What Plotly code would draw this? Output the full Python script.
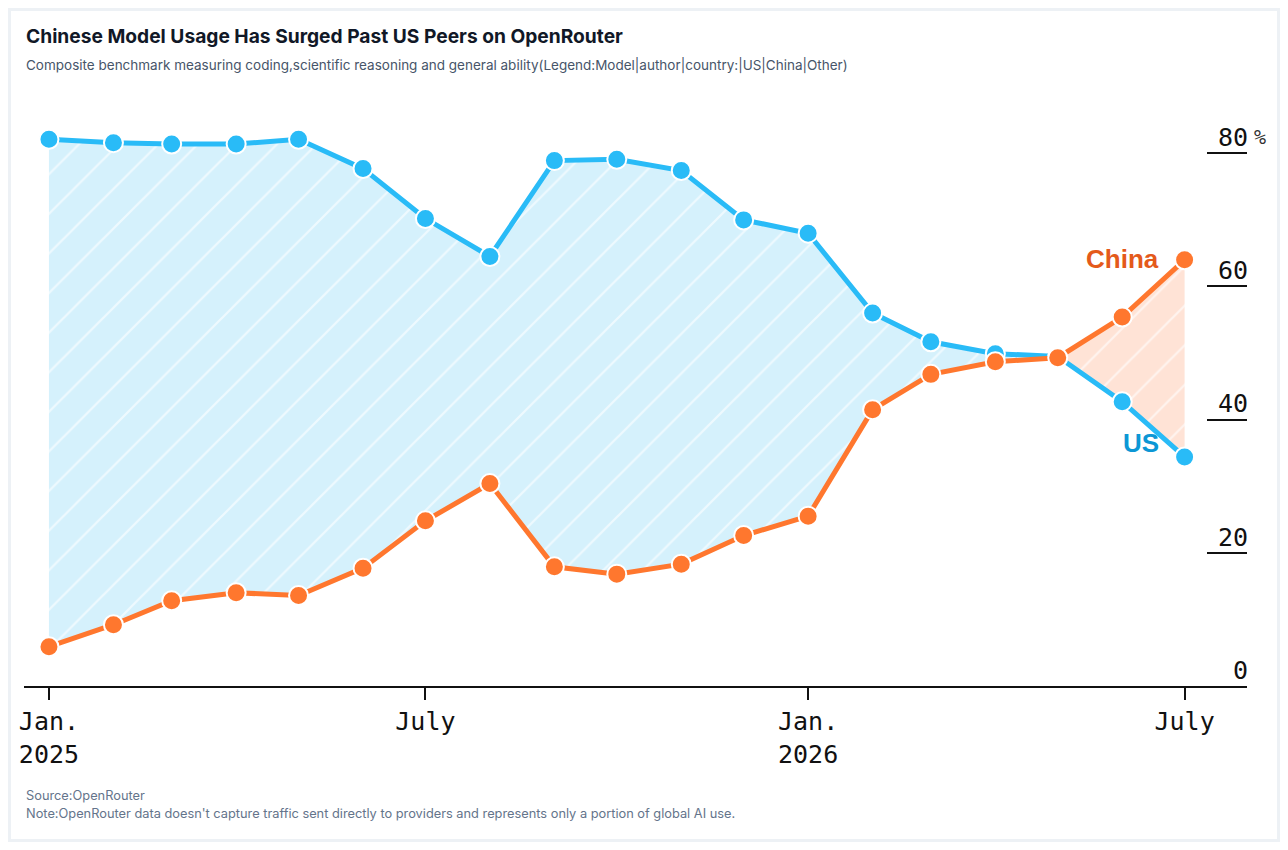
import plotly.graph_objects as go

months = ["2025-01-01", "2025-02-01", "2025-03-01", "2025-04-01", "2025-05-01",
          "2025-06-01", "2025-07-01", "2025-08-01", "2025-09-01", "2025-10-01",
          "2025-11-01", "2025-12-01", "2026-01-01", "2026-02-01", "2026-03-01",
          "2026-04-01", "2026-05-01", "2026-06-01", "2026-07-01"]
us = [82.1, 81.6, 81.4, 81.4, 82.1, 77.7, 70.2, 64.5, 78.9, 79.1,
      77.4, 70.0, 68.0, 56.0, 51.7, 49.9, 49.5, 42.7, 34.4]
china = [5.9, 9.2, 12.8, 14.0, 13.6, 17.7, 24.8, 30.4, 17.9, 16.8,
         18.3, 22.6, 25.5, 41.5, 46.8, 48.7, 49.3, 55.4, 64.0]

x_tickvals = ["2025-01-01", "2025-07-01", "2026-01-01", "2026-07-01"]
x_ticktext = ["Jan.<br>2025", "July", "Jan.<br>2026", "July"]
y_tickvals = [0, 20, 40, 60, 80]

cross = 16  # month where China overtakes US (May 2026)

BLUE = "#29bbf7"
ORANGE = "#ff772e"
MONO = "DejaVu Sans Mono, monospace"
SANS = "Inter, Noto Sans, sans-serif"

fig = go.Figure()

# gap shading: US ahead (blue), China ahead (orange)
fig.add_trace(go.Scatter(x=months[:cross + 1], y=china[:cross + 1], mode="lines",
                         line=dict(width=0), hoverinfo="skip", showlegend=False))
fig.add_trace(go.Scatter(x=months[:cross + 1], y=us[:cross + 1], mode="lines",
                         line=dict(width=0), fill="tonexty", fillcolor="#d5f1fc",
                         fillpattern=dict(shape="/", fgcolor="white", size=28,
                                          solidity=0.08, fgopacity=0.6),
                         hoverinfo="skip", showlegend=False))
fig.add_trace(go.Scatter(x=months[cross:], y=us[cross:], mode="lines",
                         line=dict(width=0), hoverinfo="skip", showlegend=False))
fig.add_trace(go.Scatter(x=months[cross:], y=china[cross:], mode="lines",
                         line=dict(width=0), fill="tonexty", fillcolor="#ffe3d6",
                         fillpattern=dict(shape="/", fgcolor="white", size=28,
                                          solidity=0.08, fgopacity=0.6),
                         hoverinfo="skip", showlegend=False))

# lines
fig.add_trace(go.Scatter(x=months, y=us, mode="lines+markers", name="US",
                         line=dict(color=BLUE, width=5),
                         marker=dict(size=19, color=BLUE, line=dict(color="white", width=2)),
                         showlegend=False))
fig.add_trace(go.Scatter(x=months, y=china, mode="lines+markers", name="China",
                         line=dict(color=ORANGE, width=5),
                         marker=dict(size=19, color=ORANGE, line=dict(color="white", width=2)),
                         showlegend=False))

fig.add_annotation(x=months[-1], y=china[-1], text="<b>China</b>", showarrow=False,
                   xanchor="right", xshift=-24, yshift=1,
                   font=dict(family="Liberation Sans, Arial", size=26, color="#e45a1b"))
fig.add_annotation(x=months[-1], y=us[-1], text="<b>US</b>", showarrow=False,
                   xanchor="right", xshift=-24, yshift=14,
                   font=dict(family="Liberation Sans, Arial", size=26, color="#0c97d5"))
fig.add_annotation(x=1.004, xref="paper", y=80, text="%", showarrow=False,
                   xanchor="left", yanchor="middle", yshift=16,
                   font=dict(family=MONO, size=20, color="#333"))

# titles and footer
fig.add_annotation(x=0, xref="paper", y=1.148, yref="paper", xanchor="left", yanchor="middle",
                   text="<b>Chinese Model Usage Has Surged Past US Peers on OpenRouter</b>",
                   showarrow=False, font=dict(family=SANS, size=19.2, color="#111827"))
fig.add_annotation(x=0, xref="paper", y=1.097, yref="paper", xanchor="left", yanchor="middle",
                   text="Composite benchmark measuring coding,scientific reasoning and general ability(Legend:Model|author|country:|US|China|Other)",
                   showarrow=False, font=dict(family=SANS, size=13.5, color="#475569"))
fig.add_annotation(x=0, xref="paper", y=-0.194, yref="paper", xanchor="left", yanchor="middle",
                   text="Source:OpenRouter", showarrow=False,
                   font=dict(family=SANS, size=12.8, color="#64748b"))
fig.add_annotation(x=0, xref="paper", y=-0.226, yref="paper", xanchor="left", yanchor="middle",
                   text="Note:OpenRouter data doesn't capture traffic sent directly to providers and represents only a portion of global AI use.",
                   showarrow=False, font=dict(family=SANS, size=12.8, color="#64748b"))

# card border
fig.add_shape(type="rect", xref="paper", yref="paper",
              x0=-0.0131, x1=1.027, y0=-0.2756, y1=1.198,
              line=dict(color="#edf1f5", width=6), layer="below")

fig.update_layout(
    width=1272, height=834,
    margin=dict(l=16, r=33, t=112, b=156),
    paper_bgcolor="white", plot_bgcolor="white",
    xaxis=dict(type="date", range=["2024-12-20", "2026-07-31"],
               tickvals=x_tickvals, ticktext=x_ticktext,
               ticks="outside", ticklen=12, tickwidth=2, tickcolor="#111",
               showline=True, linecolor="#111", linewidth=2,
               showgrid=False, zeroline=False,
               tickfont=dict(family=MONO, size=25, color="#111")),
    yaxis=dict(side="right", range=[0, 85], tickvals=y_tickvals,
               ticks="inside", ticklen=40, tickwidth=2, tickcolor="#111",
               ticklabelposition="inside", ticklabelshift=-16, ticklabelstandoff=-39,
               showline=False, showgrid=False, zeroline=False,
               tickfont=dict(family=MONO, size=25, color="#111")),
)

fig.write_html("out.html")
